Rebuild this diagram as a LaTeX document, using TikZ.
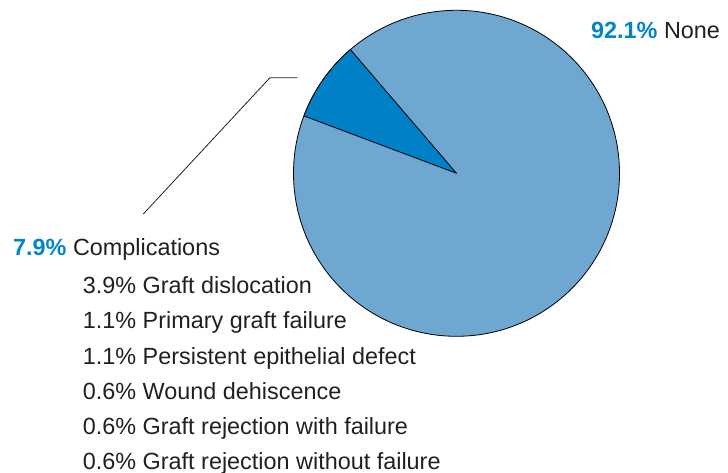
\documentclass[tikz,border=0pt]{standalone}
\usepackage{fontspec}
\setmainfont{Liberation Sans}
\definecolor{lightslice}{HTML}{6EA7D0}
\definecolor{darkslice}{HTML}{0080C6}
\definecolor{bluetext}{HTML}{0085CA}
\definecolor{graytext}{HTML}{231F20}
\begin{document}
\begin{tikzpicture}[x=1pt,y=1pt,
  lbl/.style={anchor=base west,inner sep=0pt,text=graytext,font=\fontsize{23.4}{28}\selectfont},
  pct/.style={text=bluetext,font=\bfseries},
  slice/.style={draw=black,line width=0.8pt,line join=round},
  leader/.style={draw=graytext,line width=0.8pt}]
\useasboundingbox (0,0) rectangle (728,473);
% pie
\coordinate (c) at (456.5,299.7);
\path[slice,fill=lightslice] (c) circle[radius=163];
\path[slice,fill=darkslice] (c) -- ++(130.6:163) arc[start angle=130.6,end angle=159.4,radius=163] -- cycle;
% labels
\node[lbl] (none) at (591,434) {\textcolor{bluetext}{\textbf{92.1\%}} None};
\node[lbl] (comp) at (13,217.3) {\textcolor{bluetext}{\textbf{7.9\%}} Complications};
\node[lbl] (l1) at (82.7,179.7) {3.9\% Graft dislocation};
\node[lbl] (l2) at (82.7,144) {1.1\% Primary graft failure};
\node[lbl] (l3) at (82.7,108) {1.1\% Persistent epithelial defect};
\node[lbl] (l4) at (82.7,73) {0.6\% Wound dehiscence};
\node[lbl] (l5) at (82.7,38) {0.6\% Graft rejection with failure};
\node[lbl] (l6) at (82.7,3) {0.6\% Graft rejection without failure};
% leader line
\coordinate (la) at (297.3,395.3);
\coordinate (lb) at (270,395.3);
\coordinate (lc) at (143.3,259);
\draw[leader] (la) -- (lb) -- (lc);
\end{tikzpicture}
\end{document}
